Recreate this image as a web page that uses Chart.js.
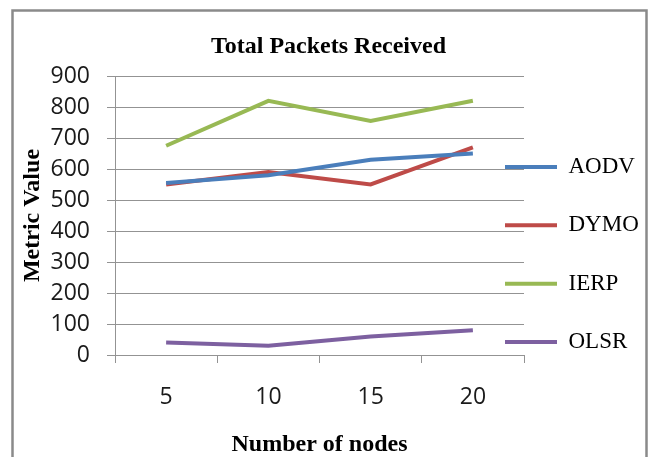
<!DOCTYPE html>
<html>
<head>
<meta charset="utf-8">
<script src="https://cdn.jsdelivr.net/npm/chart.js@4/dist/chart.umd.min.js"></script>
<style>
  html, body { margin: 0; padding: 0; background: #fff; }
  #wrap { width: 657px; height: 457px; position: relative; }
</style>
</head>
<body>
<div id="wrap"><canvas id="c"></canvas></div>
<script>
const categories = ['5', '10', '15', '20'];
const seriesNames = ['AODV', 'DYMO', 'IERP', 'OLSR'];
const aodv = [555, 580, 630, 650];
const dymo = [550, 590, 550, 670];
const ierp = [675, 820, 755, 820];
const olsr = [40, 30, 60, 80];
const yTicks = [0, 100, 200, 300, 400, 500, 600, 700, 800, 900];
const seriesColors = ['#4A7EBB', '#BE4B48', '#98B954', '#7D60A0'];

const frame = {
  id: 'frame',
  beforeDraw(chart) {
    const ctx = chart.ctx;
    ctx.save();
    ctx.fillStyle = '#ffffff';
    ctx.fillRect(0, 0, chart.width, chart.height);
    ctx.strokeStyle = '#8a8a8a';
    ctx.lineWidth = 2.5;
    ctx.strokeRect(12.5, 10.5, 634, 470);
    ctx.restore();
  }
};

const legendPlace = {
  id: 'legendPlace',
  afterLayout(chart) {
    const lg = chart.legend;
    if (!lg) return;
    const pad = lg.options.labels.padding;
    lg.left = 505 - pad;
    lg.right = 657;
    lg.top = 76;
    lg.bottom = 433;
  }
};

const values = [aodv, dymo, ierp, olsr];
const datasets = seriesNames.map((name, i) => ({
  label: name,
  data: values[i],
  borderColor: seriesColors[i],
  backgroundColor: seriesColors[i],
  borderWidth: 4,
  pointRadius: 0,
  pointHoverRadius: 0,
  tension: 0,
  fill: false
}));

const gridColor = '#939393';
const serifBold = { family: '"Liberation Serif", "Times New Roman", serif', size: 24, weight: 'bold', lineHeight: 1 };

new Chart(document.getElementById('c'), {
  type: 'line',
  data: { labels: categories, datasets },
  plugins: [frame, legendPlace],
  options: {
    responsive: true,
    maintainAspectRatio: false,
    animation: false,
    layout: { padding: { left: 0, right: 0, top: 0, bottom: 0 } },
    plugins: {
      title: {
        display: true,
        text: 'Total Packets Received',
        color: '#000',
        font: serifBold,
        padding: { top: 35, bottom: 17 }
      },
      legend: {
        display: true,
        position: 'right',
        maxWidth: 133,
        labels: {
          color: '#000',
          font: { family: '"Liberation Serif", "Times New Roman", serif', size: 23 },
          boxWidth: 52,
          boxHeight: 4,
          padding: 35.3,
          generateLabels(chart) {
            return chart.data.datasets.map((ds, i) => ({
              text: ds.label,
              fillStyle: ds.borderColor,
              strokeStyle: ds.borderColor,
              lineWidth: 0,
              hidden: false,
              datasetIndex: i
            }));
          }
        }
      },
      tooltip: { enabled: false }
    },
    scales: {
      x: {
        type: 'category',
        offset: true,
        grid: { offset: true, drawOnChartArea: false, drawTicks: true, tickLength: 8, color: gridColor },
        border: { display: true, color: gridColor },
        ticks: {
          color: '#1a1a1a',
          font: { family: '"Open Sans", sans-serif', size: 23, lineHeight: 1.2 },
          padding: 21,
          maxRotation: 0
        },
        title: {
          display: true,
          text: 'Number of nodes',
          color: '#000',
          font: serifBold,
          padding: { top: 0, bottom: 0 }
        },
        afterFit(scale) { scale.height = 102; }
      },
      y: {
        min: 0,
        max: 900,
        afterBuildTicks(scale) { scale.ticks = yTicks.map(v => ({ value: v })); },
        grid: { drawTicks: true, tickLength: 8, color: gridColor },
        border: { display: true, color: gridColor },
        ticks: {
          color: '#1a1a1a',
          font: { family: '"Open Sans", sans-serif', size: 23 },
          padding: 17
        },
        title: {
          display: true,
          text: 'Metric Value',
          color: '#000',
          font: serifBold,
          padding: { top: 21, bottom: 0 }
        },
        afterFit(scale) { scale.width = 115; }
      }
    }
  }
});
</script>
</body>
</html>
